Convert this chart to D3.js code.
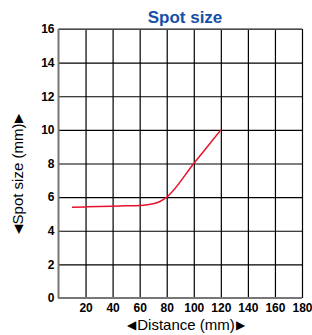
<!DOCTYPE html>
<html>
<head>
<meta charset="utf-8">
<script src="https://cdn.jsdelivr.net/npm/d3@7"></script>
<style>
  body { margin: 0; background: #fff; }
  svg { display: block; font-family: "Liberation Sans", Arial, Helvetica, sans-serif; }
</style>
</head>
<body>
<svg></svg>
<script>
// data
let distance = [10, 20, 30, 40, 50, 60, 70, 75, 80, 100, 120]
let spotSize = [5.4, 5.42, 5.44, 5.46, 5.48, 5.5, 5.6, 5.74, 6, 8, 10]
let xTicks = [20, 40, 60, 80, 100, 120, 140, 160, 180]
let yTicks = [0, 2, 4, 6, 8, 10, 12, 14, 16]
let title = "Spot size"
let xTitle = "Distance (mm)"
let yTitle = "Spot size (mm)"

let svgWidth = 312, svgHeight = 335
let margin = { top: 29, right: 10, bottom: 37, left: 58.5 }
let width = svgWidth - margin.left - margin.right
let height = svgHeight - margin.top - margin.bottom

let svg = d3.select("svg")
  .attr("width", svgWidth)
  .attr("height", svgHeight)

let g = svg.append("g")
  .attr("transform", "translate(" + margin.left + "," + margin.top + ")")

let x = d3.scaleLinear().domain([0, 180]).range([0, width])
let y = d3.scaleLinear().domain([0, 16]).range([height, 0])

// grid
g.append("g")
  .attr("class", "grid")
  .call(d3.axisLeft(y).tickValues(yTicks).tickSize(-width).tickFormat(""))
g.append("g")
  .attr("class", "grid")
  .attr("transform", "translate(0," + height + ")")
  .call(d3.axisBottom(x).tickValues(xTicks).tickSize(-height).tickFormat(""))
g.selectAll(".grid .domain").remove()
g.selectAll(".grid line").attr("stroke", "#000").attr("stroke-width", 1.2)

// axis lines
g.append("line")
  .attr("x1", 0).attr("x2", 0).attr("y1", 0).attr("y2", height)
  .attr("stroke", "#777").attr("stroke-width", 2)
g.append("line")
  .attr("x1", 0).attr("x2", width).attr("y1", height).attr("y2", height)
  .attr("stroke", "#777").attr("stroke-width", 2)
g.append("line")
  .attr("x1", 0).attr("x2", width).attr("y1", 0).attr("y2", 0)
  .attr("stroke", "#666").attr("stroke-width", 1.5)

// tick labels
g.append("g")
  .call(d3.axisLeft(y).tickValues(yTicks).tickSize(0).tickPadding(4))
g.append("g")
  .attr("transform", "translate(0," + height + ")")
  .call(d3.axisBottom(x).tickValues(xTicks).tickSize(0).tickPadding(5))
g.selectAll(".domain").remove()
g.selectAll(".tick text")
  .attr("fill", "#000")
  .style("font-size", "12px")
  .style("font-weight", "bold")

// line
let line = d3.line()
  .x(function(d, i) { return x(distance[i]) })
  .y(function(d) { return y(d) })
  .curve(d3.curveMonotoneX)

g.append("path")
  .datum(spotSize)
  .attr("fill", "none")
  .attr("stroke", "#e8112d")
  .attr("stroke-width", 1.5)
  .attr("stroke-linejoin", "round")
  .attr("d", line)

// titles
svg.append("text")
  .attr("x", 185)
  .attr("y", 23)
  .attr("text-anchor", "middle")
  .attr("fill", "#1550a8")
  .style("font-size", "17px")
  .style("font-weight", "bold")
  .text(title)

function arrowTitle(sel, label) {
  sel.append("tspan").style("font-size", "12px").attr("dy", "-1").text("\u25C0")
  sel.append("tspan").attr("dy", "1").attr("dx", "1").text(label)
  sel.append("tspan").style("font-size", "12px").attr("dy", "-1").attr("dx", "1").text("\u25B6")
}

svg.append("text")
  .attr("x", 186)
  .attr("y", 330)
  .attr("text-anchor", "middle")
  .attr("fill", "#000")
  .style("font-size", "15px")
  .call(arrowTitle, xTitle)

svg.append("text")
  .attr("transform", "translate(23,174) rotate(-90)")
  .attr("text-anchor", "middle")
  .attr("fill", "#000")
  .style("font-size", "15px")
  .call(arrowTitle, yTitle)
</script>
</body>
</html>
